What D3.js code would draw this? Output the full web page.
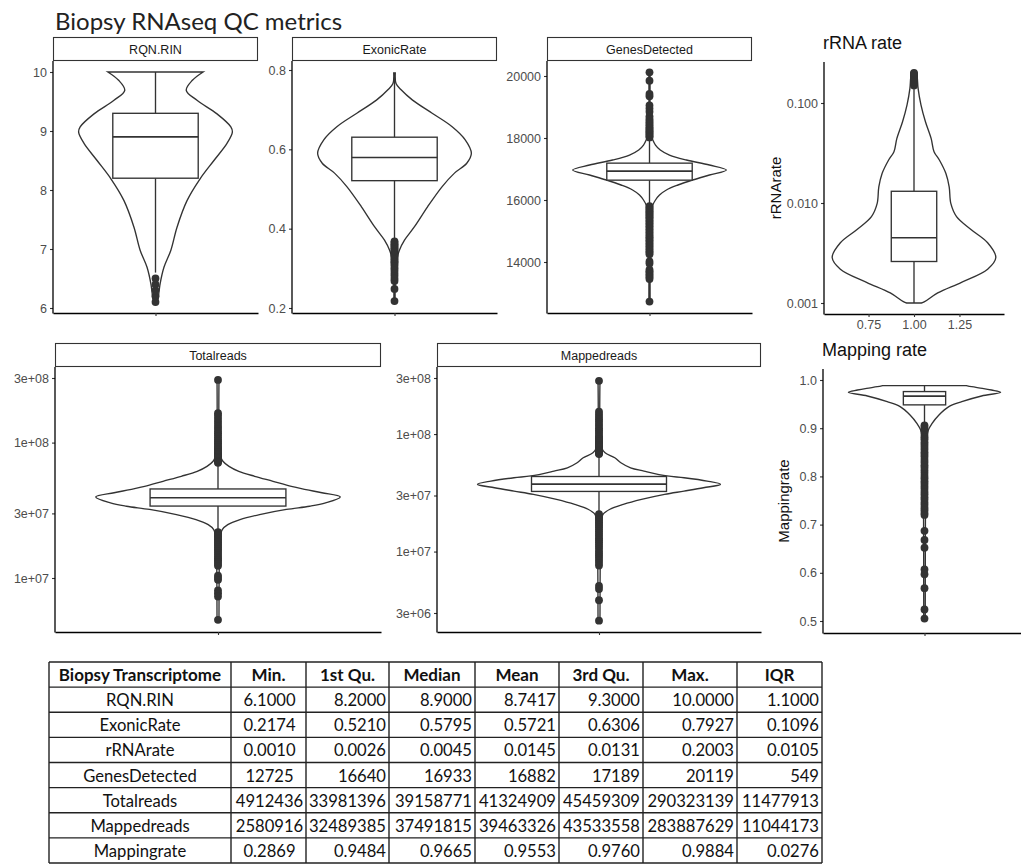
<!DOCTYPE html>
<html><head><meta charset="utf-8">
<script src="https://cdn.jsdelivr.net/npm/d3@7"></script>
<style>body{margin:0;background:#fff} svg{display:block}</style>
</head><body>
<script>
// ---------------- DATA ----------------
const chartTitle = "Biopsy RNAseq QC metrics";
const panelNames = ["RQN.RIN","ExonicRate","GenesDetected","rRNArate","Totalreads","Mappedreads","Mappingrate"];

// summary table (also provides box statistics)
const tableCols = ["Biopsy Transcriptome","Min.","1st Qu.","Median","Mean","3rd Qu.","Max.","IQR"];
const tableRowNames = ["RQN.RIN","ExonicRate","rRNArate","GenesDetected","Totalreads","Mappedreads","Mappingrate"];
const tMin    = ["6.1000","0.2174","0.0010","12725","4912436","2580916","0.2869"];
const tQ1     = ["8.2000","0.5210","0.0026","16640","33981396","32489385","0.9484"];
const tMedian = ["8.9000","0.5795","0.0045","16933","39158771","37491815","0.9665"];
const tMean   = ["8.7417","0.5721","0.0145","16882","41324909","39463326","0.9553"];
const tQ3     = ["9.3000","0.6306","0.0131","17189","45459309","43533558","0.9760"];
const tMax    = ["10.0000","0.7927","0.2003","20119","290323139","283887629","0.9884"];
const tIQR    = ["1.1000","0.1096","0.0105","549","11477913","11044173","0.0276"];

// whisker ends (panel order)
const whiskerLo = [6.6, 0.368, 15850, 0.001, 22.3e6, 21.2e6, 0.908];
const whiskerHi = [10, 0.7927, 17990, 0.148, 70e6, 67e6, 0.9884];

// violin outlines: [value, relative half-width]
const violinRQN = [[10,0.62],[9.86,0.48],[9.69,0.40],[9.52,0.54],[9.29,0.80],[9.07,0.98],[8.98,1.0],[8.79,0.93],[8.5,0.76],[8.19,0.58],[7.82,0.41],[7.37,0.28],[6.98,0.2],[6.69,0.11],[6.41,0.06],[6.13,0.03],[6.1,0.02]];
const violinExonic = [[0.7927,0.01],[0.766,0.02],[0.75,0.086],[0.724,0.235],[0.691,0.49],[0.657,0.75],[0.624,0.92],[0.59,1.0],[0.565,0.94],[0.54,0.78],[0.506,0.62],[0.455,0.43],[0.405,0.26],[0.371,0.13],[0.346,0.065],[0.313,0.02],[0.28,0.01],[0.2174,0.008]];
const violinGenes = [[20119,0.008],[18500,0.01],[18100,0.02],[17935,0.043],[17773,0.078],[17612,0.14],[17450,0.26],[17290,0.48],[17129,0.78],[16968,1.0],[16806,0.78],[16645,0.56],[16484,0.37],[16323,0.22],[16161,0.13],[16000,0.078],[15839,0.043],[15600,0.02],[15000,0.01],[12725,0.008]];
const violinRRNA = [[0.2003,0.03],[0.18,0.04],[0.14,0.05],[0.096,0.085],[0.065,0.14],[0.044,0.21],[0.0326,0.245],[0.0269,0.31],[0.0197,0.39],[0.0145,0.43],[0.0099,0.45],[0.0073,0.52],[0.0054,0.70],[0.004,0.90],[0.00285,1.0],[0.00218,0.90],[0.00161,0.58],[0.00126,0.29],[0.00103,0.13],[0.001,0.09]];
const violinTotal = [[290323139,0.008],[100e6,0.01],[80e6,0.02],[72.8e6,0.04],[66.8e6,0.09],[61.4e6,0.17],[56.4e6,0.30],[51.8e6,0.45],[47.5e6,0.60],[45.0e6,0.72],[42.6e6,0.85],[39.7e6,1.0],[35.9e6,0.88],[33.9e6,0.75],[32.1e6,0.56],[29.4e6,0.34],[27.0e6,0.18],[24.8e6,0.08],[22.8e6,0.035],[20e6,0.015],[12e6,0.01],[4912436,0.008]];
const violinMapped = [[283887629,0.008],[100e6,0.01],[75e6,0.025],[69.3e6,0.05],[62.8e6,0.13],[57.0e6,0.18],[51.6e6,0.26],[48.4e6,0.37],[44.0e6,0.56],[42.5e6,0.70],[39.8e6,0.89],[37.3e6,1.0],[34.9e6,0.86],[32.7e6,0.70],[30.7e6,0.54],[27.8e6,0.35],[25.2e6,0.20],[22.9e6,0.09],[20.7e6,0.033],[18e6,0.015],[8e6,0.01],[2580916,0.008]];
const violinMapping = [[0.9884,0.55],[0.9861,0.62],[0.9827,0.76],[0.9792,0.88],[0.9745,1.0],[0.9668,0.75],[0.955,0.49],[0.9447,0.32],[0.9274,0.19],[0.910,0.10],[0.896,0.05],[0.87,0.025],[0.80,0.015],[0.505,0.01]];
const violins = [violinRQN, violinExonic, violinGenes, violinRRNA, violinTotal, violinMapped, violinMapping];

// outlier points
const outRQN = [6.1,6.2,6.3,6.4,6.5];
const outExonic = [0.368,0.364,0.361,0.357,0.354,0.35,0.347,0.343,0.34,0.336,0.333,0.329,0.326,0.322,0.318,0.315,0.311,0.306,0.3,0.294,0.287,0.281,0.274,0.268,0.248,0.2174];
const outGenes = [18020,18060,18100,18140,18180,18220,18260,18300,18350,18400,18450,18500,18560,18620,18700,18850,18950,19050,19350,19420,19850,20119,
  15800,15760,15720,15680,15640,15600,15560,15520,15480,15440,15400,15350,15300,15250,15200,15150,15100,15050,15000,14950,14900,14850,14800,14750,14700,14650,14600,14550,14500,14450,14400,14350,14300,14250,14020,13950,13750,13700,13650,13600,13550,13500,13450,12725];
const outRRNA = [0.15,0.155,0.16,0.165,0.17,0.175,0.18,0.185,0.19,0.195,0.2003];
const outTotal = [71e6,72e6,73e6,74e6,75e6,76e6,77e6,78e6,79e6,80e6,81e6,82e6,83e6,85e6,87e6,89e6,91e6,93e6,96e6,99e6,102e6,105e6,109e6,113e6,117e6,121e6,126e6,131e6,137e6,143e6,150e6,158e6,165e6,290323139,
  21.8e6,21.3e6,20.8e6,20.3e6,19.8e6,19.3e6,18.8e6,18.3e6,17.8e6,17.3e6,16.8e6,16.3e6,15.8e6,15.3e6,14.8e6,14.3e6,13.9e6,13.5e6,13.1e6,12.7e6,12.3e6,10.4e6,10.0e6,9.7e6,8.1e6,7.7e6,7.3e6,4912436];
const outMapped = [67.5e6,68.5e6,69.5e6,70.5e6,71.5e6,72.5e6,73.5e6,75e6,76.5e6,78e6,79.5e6,81e6,83e6,85e6,87e6,89e6,91e6,93e6,96e6,100e6,104e6,108e6,112e6,117e6,122e6,128e6,134e6,140e6,147e6,155e6,283887629,
  20.8e6,20.2e6,19.6e6,19e6,18.4e6,17.8e6,17.2e6,16.6e6,16e6,15.4e6,14.8e6,14.2e6,13.6e6,13e6,12.5e6,12e6,11.5e6,11e6,10.5e6,10e6,9.6e6,9.2e6,8.8e6,8.4e6,8e6,7.6e6,5.1e6,4.8e6,3.85e6,2580916];
const outMapping = [0.906,0.901,0.897,0.892,0.886,0.881,0.877,0.871,0.866,0.861,0.856,0.85,0.845,0.84,0.834,0.829,0.823,0.818,0.812,0.807,0.801,0.796,0.79,0.785,0.779,0.774,0.768,0.763,0.757,0.752,0.746,0.741,0.735,0.73,0.724,0.72,0.687,0.668,0.652,0.607,0.597,0.568,0.524,0.505];
const outliers = [outRQN, outExonic, outGenes, outRRNA, outTotal, outMapped, outMapping];

// tick values and labels
const yTicks = [[10,9,8,7,6],[0.8,0.6,0.4,0.2],[20000,18000,16000,14000],[0.1,0.01,0.001],[3e8,1e8,3e7,1e7],[3e8,1e8,3e7,1e7,3e6],[1.0,0.9,0.8,0.7,0.6,0.5]];
const yTickLabels = [["10","9","8","7","6"],["0.8","0.6","0.4","0.2"],["20000","18000","16000","14000"],["0.100","0.010","0.001"],["3e+08","1e+08","3e+07","1e+07"],["3e+08","1e+08","3e+07","1e+07","3e+06"],["1.0","0.9","0.8","0.7","0.6","0.5"]];
const rrnaXTicks = [0.75,1.0,1.25];
const rrnaXLabels = ["0.75","1.00","1.25"];

// ---------------- LAYOUT ----------------
const layouts = [
 {l:53,r:258,t:61,b:313,strip:37,log:false,yDom:[6,10],yRng:[308,72],xDom:[0.4,1.6],boxW:0.5},
 {l:292,r:497,t:61,b:313,strip:37,log:false,yDom:[0.2,0.8],yRng:[308,70],xDom:[0.4,1.6],boxW:0.5},
 {l:547,r:752,t:61,b:313,strip:37,log:false,yDom:[14000,20000],yRng:[262,76],xDom:[0.4,1.6],boxW:0.5},
 {l:824,r:1004,t:62,b:314,title:"rRNA rate",titleY:49,ylab:"rRNArate",ylabX:781,log:true,yDom:[0.001,0.1],yRng:[303,103],xDom:[0.505,1.495],boxW:0.25,numX:true},
 {l:55,r:381,t:367,b:632,strip:343,log:true,yDom:[1e7,3e8],yRng:[578,378],xDom:[0.4,1.6],boxW:0.5},
 {l:437,r:761,t:367,b:632,strip:343,log:true,yDom:[3e6,3e8],yRng:[613,378],xDom:[0.4,1.6],boxW:0.5},
 {l:823,r:1026,t:369,b:633,title:"Mapping rate",titleY:356,ylab:"Mappingrate",ylabX:789,log:false,yDom:[0.5,1.0],yRng:[621,380],xDom:[0.4,1.6],boxW:0.25}
];

const W=1021,H=865;
const FONT="'Liberation Sans', Arial, sans-serif";
const TFONT="Lato, 'Open Sans', sans-serif";
const INK="#333";
const LW=1.35;
const svg=d3.select("body").append("svg").attr("width",W).attr("height",H);

svg.append("text").attr("x",55).attr("y",30).attr("font-family",TFONT).attr("font-size",24)
  .attr("fill","#222").text(chartTitle);

panelNames.forEach((name,i)=>{
  const L=layouts[i];
  const g=svg.append("g");
  const y=(L.log?d3.scaleLog():d3.scaleLinear()).domain(L.yDom).range(L.yRng);
  const x=d3.scaleLinear().domain(L.xDom).range([L.l,L.r]);
  const cx=x(1), hw=x(1.45)-x(1), bh=x(1+L.boxW/2)-x(1);
  const ti=tableRowNames.indexOf(name);
  const q1=+tQ1[ti], med=+tMedian[ti], q3=+tQ3[ti];

  if(L.strip!=null){
    g.append("rect").attr("x",L.l+0.5).attr("y",L.strip+0.5).attr("width",L.r-L.l-1).attr("height",L.t-L.strip-1)
      .attr("fill","#fff").attr("stroke",INK).attr("stroke-width",1.1);
    g.append("text").attr("x",(L.l+L.r)/2).attr("y",L.strip+16.5).attr("text-anchor","middle")
      .attr("font-family",FONT).attr("font-size",12.5).attr("fill","#1a1a1a").text(name);
  } else {
    g.append("text").attr("x",L.l-1).attr("y",L.titleY).attr("font-family",FONT).attr("font-size",18)
      .attr("fill","#111").text(L.title);
    g.append("text").attr("transform",`translate(${L.ylabX},${(L.t+L.b)/2}) rotate(-90)`).attr("text-anchor","middle")
      .attr("font-family",FONT).attr("font-size",15).attr("fill","#111").text(L.ylab);
  }

  // violin
  const area=d3.area().curve(d3.curveCatmullRom.alpha(0.5))
    .y(d=>y(d[0])).x0(d=>cx-d[1]*hw).x1(d=>cx+d[1]*hw);
  g.append("path").datum(violins[i]).attr("d",area).attr("fill","#fff").attr("stroke",INK).attr("stroke-width",LW);

  // whiskers
  g.append("line").attr("x1",cx).attr("x2",cx).attr("y1",y(q3)).attr("y2",y(whiskerHi[i])).attr("stroke",INK).attr("stroke-width",LW);
  g.append("line").attr("x1",cx).attr("x2",cx).attr("y1",y(q1)).attr("y2",y(whiskerLo[i])).attr("stroke",INK).attr("stroke-width",LW);
  // box
  g.append("rect").attr("x",cx-bh).attr("y",y(q3)).attr("width",2*bh).attr("height",y(q1)-y(q3))
    .attr("fill","#fff").attr("stroke",INK).attr("stroke-width",LW);
  g.append("line").attr("x1",cx-bh).attr("x2",cx+bh).attr("y1",y(med)).attr("y2",y(med)).attr("stroke",INK).attr("stroke-width",1.6);
  // outliers
  g.selectAll("circle.o").data(outliers[i]).join("circle").attr("class","o")
    .attr("cx",cx).attr("cy",d=>y(d)).attr("r",3.9).attr("fill",INK);

  // y axis
  const ya=g.append("g").attr("transform",`translate(${L.l},0)`)
    .call(d3.axisLeft(y).tickValues(yTicks[i]).tickFormat((d,k)=>yTickLabels[i][k]).tickSize(3).tickPadding(3));
  ya.select(".domain").remove();
  ya.selectAll(".tick line").attr("stroke",INK).attr("stroke-width",1.1);
  ya.selectAll(".tick text").attr("font-family",FONT).attr("font-size",12.5).attr("fill","#4d4d4d");
  g.append("line").attr("x1",L.l).attr("x2",L.l).attr("y1",L.t).attr("y2",L.b+0.6).attr("stroke","#000").attr("stroke-width",1.3);

  // x axis
  const xa=g.append("g").attr("transform",`translate(0,${L.b})`)
    .call(d3.axisBottom(x).tickValues(L.numX?rrnaXTicks:[1]).tickFormat((d,k)=>L.numX?rrnaXLabels[k]:"").tickSize(3).tickSizeOuter(0).tickPadding(3));
  xa.select(".domain").attr("stroke","#000").attr("stroke-width",1.3);
  xa.selectAll(".tick line").attr("stroke",INK).attr("stroke-width",1.1);
  xa.selectAll(".tick text").attr("font-family",FONT).attr("font-size",12.5).attr("fill","#4d4d4d");
});

// ---------------- TABLE ----------------
const colX=[49,231,306,389,475,559,643,737,822];
const rowY0=662, rowH=25.125;
const TS=16.6;
const tbl=svg.append("g");
const body=[tMin,tQ1,tMedian,tMean,tQ3,tMax,tIQR];
const nRows=tableRowNames.length+1;
for(let r=0;r<=nRows;r++){
  tbl.append("line").attr("x1",colX[0]).attr("x2",colX[colX.length-1]).attr("y1",rowY0+r*rowH).attr("y2",rowY0+r*rowH)
    .attr("stroke","#222").attr("stroke-width",1.4);
}
colX.forEach(cxp=>{
  tbl.append("line").attr("x1",cxp).attr("x2",cxp).attr("y1",rowY0).attr("y2",rowY0+nRows*rowH)
    .attr("stroke","#222").attr("stroke-width",1.4);
});
tableCols.forEach((h,c)=>{
  tbl.append("text").attr("x",(colX[c]+colX[c+1])/2).attr("y",rowY0+19).attr("text-anchor","middle")
    .attr("font-family",TFONT).attr("font-weight","bold").attr("font-size",TS+0.4).attr("fill","#111").text(h);
});
tableRowNames.forEach((nm,r)=>{
  const yy=rowY0+(r+1)*rowH+19;
  tbl.append("text").attr("x",(colX[0]+colX[1])/2).attr("y",yy).attr("text-anchor","middle")
    .attr("font-family",TFONT).attr("font-size",TS).attr("fill","#111").text(nm);
  body.forEach((arr,c)=>{
    const col=c+1;
    const t=tbl.append("text").attr("y",yy).attr("font-family",TFONT).attr("font-size",TS).attr("fill","#111").text(arr[r]);
    if(col===1) t.attr("x",(colX[1]+colX[2])/2+1).attr("text-anchor","middle");
    else t.attr("x",colX[col+1]-3).attr("text-anchor","end");
  });
});
</script>
</body></html>
